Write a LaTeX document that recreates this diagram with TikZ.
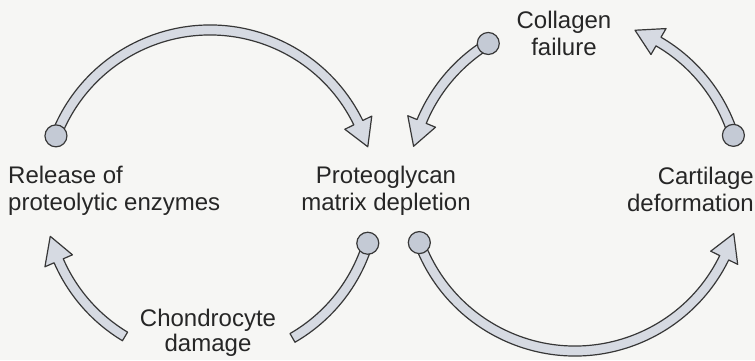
\documentclass[tikz,border=0pt]{standalone}
\usepackage{fontspec}
\setmainfont{Liberation Sans}
\usetikzlibrary{calc}
\definecolor{bandgrey}{RGB}{214,218,226}
\definecolor{knobgrey}{RGB}{196,202,213}
\definecolor{edgegrey}{RGB}{55,55,55}
\definecolor{paper}{RGB}{246,246,244}
\def\bw{5}  % half width of the band
\def\hw{15} % half width of the head
% #1 centre, #2 radius, #3 start angle, #4 head base angle, #5 tip angle
\newcommand{\fatarrow}[5]{%
  \draw[band] ($(#1)+({#3}:{#2+\bw})$) arc[start angle=#3, end angle=#4, radius={#2+\bw}]
    -- ($(#1)+({#4}:{#2+\hw})$) -- ($(#1)+({#5}:{#2})$) -- ($(#1)+({#4}:{#2-\hw})$)
    -- ($(#1)+({#4}:{#2-\bw})$) arc[start angle=#4, end angle=#3, radius={#2-\bw}] -- cycle;}
% #1 centre, #2 radius, #3 start angle, #4 end angle
\newcommand{\fatband}[4]{%
  \draw[band] ($(#1)+({#3}:{#2+\bw})$) arc[start angle=#3, end angle=#4, radius={#2+\bw}]
    -- ($(#1)+({#4}:{#2-\bw})$) arc[start angle=#4, end angle=#3, radius={#2-\bw}] -- cycle;}

\begin{document}
\begin{tikzpicture}[x=1pt,y=1pt,
  every node/.style={font=\fontsize{24}{27}\selectfont,text=black!85,inner sep=0pt},
  band/.style={draw=edgegrey,fill=bandgrey,line width=1.2pt,line join=round},
  knob/.style={circle,draw=edgegrey,fill=knobgrey,line width=1.2pt,minimum size=22pt}]
\fill[paper] (0,0) rectangle (755,360);
\useasboundingbox (0,0) rectangle (755,360);
\coordinate (lc) at (210,165);
\coordinate (rc) at (575,175);
% labels
\node[align=left,anchor=west] (release) at (8,169) {Release of\\proteolytic enzymes};
\node[align=center] (proteo) at (386,169) {Proteoglycan\\matrix depletion};
\node[align=right,anchor=east] (cartilage) at (754,171) {Cartilage\\deformation};
\node[align=center] (collagen) at (564,327) {Collagen\\failure};
\node[align=center] (chondro) at (208,27) {Chondrocyte\\[-2pt]damage};
% left cycle
\fatarrow{lc}{165}{159}{26}{17}
\node[knob] (relknob) at ($(lc)+(159:165)$) {};
\fatband{lc}{165}{-17}{-60}
\node[knob] (protknobl) at ($(lc)+(-17:165)$) {};
\fatarrow{lc}{165}{239}{203.5}{194.5}
% right cycle
\fatarrow{rc}{166}{200.3}{334}{343}
\node[knob] (protknobr) at ($(rc)+(200.3:166)$) {};
\fatarrow{rc}{166}{17.4}{59.8}{68.8}
\node[knob] (cartknob) at ($(rc)+(17.4:166)$) {};
\fatarrow{rc}{166}{121.5}{157.5}{166.5}
\node[knob] (collknob) at ($(rc)+(121.5:166)$) {};
\end{tikzpicture}
\end{document}
